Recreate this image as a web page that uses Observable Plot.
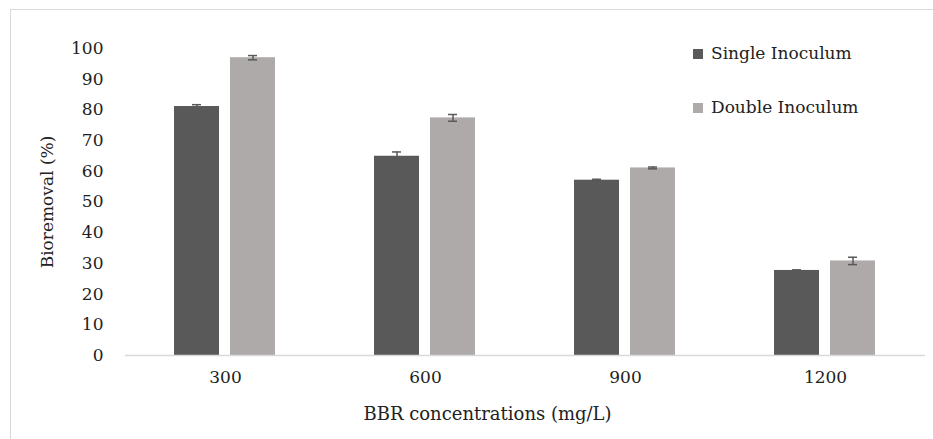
<!DOCTYPE html>
<html>
<head>
<meta charset="utf-8">
<script src="https://cdn.jsdelivr.net/npm/d3@7"></script>
<script src="https://cdn.jsdelivr.net/npm/@observablehq/plot@0.6"></script>
<style>
  body { margin: 0; background: #fff; }
  #wrap { position: relative; width: 933px; height: 439px; overflow: hidden; }
  #frame { position: absolute; left: 10px; top: 9px; right: -5px; bottom: -5px;
           border-top: 1.5px solid #d9d9d9; border-left: 1.5px solid #d9d9d9; pointer-events: none; }
  .leg { position: absolute; left: 693px; font-family: "DejaVu Serif"; font-size: 17px; color: #222;
         line-height: 22px; white-space: nowrap; }
  .sw { display: inline-block; width: 10px; height: 10px; margin-right: 8px; vertical-align: 0px; }
</style>
</head>
<body>
<div id="wrap"><div id="chart"></div><div id="frame"></div></div>
<script>
const concentrations = ["300", "600", "900", "1200"];
const series = ["Single Inoculum", "Double Inoculum"];
const singleValues = [81.1, 64.9, 57.1, 27.7];
const doubleValues = [97.0, 77.4, 61.1, 30.8];
const singleErrors = [0.6, 1.4, 0.3, 0.2];
const doubleErrors = [0.7, 1.1, 0.3, 1.2];
const yTicks = [0, 10, 20, 30, 40, 50, 60, 70, 80, 90, 100];
const colors = ["#595959", "#aeaaaa"];
const xTitle = "BBR concentrations (mg/L)";
const yTitle = "Bioremoval (%)";

const rows = concentrations.flatMap((c, i) => [
  {conc: c, series: series[0], value: singleValues[i], err: singleErrors[i]},
  {conc: c, series: series[1], value: doubleValues[i], err: doubleErrors[i]}
]);

const chart = Plot.plot({
  width: 933,
  height: 439,
  marginLeft: 125,
  marginRight: 8,
  marginTop: 48,
  marginBottom: 84,
  style: {fontFamily: "DejaVu Serif", fontSize: "17px", color: "#222", background: "transparent"},
  fx: {domain: concentrations, padding: 0, tickSize: 0, tickPadding: 15,
       label: xTitle, labelAnchor: "center", labelOffset: 64},
  x: {domain: series, axis: null, paddingInner: 0.193, paddingOuter: 0.851},
  y: {domain: [0, 100], ticks: yTicks, tickSize: 0, tickPadding: 22,
      label: yTitle, labelAnchor: "center", labelOffset: 85},
  color: {domain: series, range: colors},
  marks: [
    Plot.barY(rows, {fx: "conc", x: "series", y: "value", fill: "series"}),
    Plot.ruleX(rows, {fx: "conc", x: "series", y1: d => d.value - d.err, y2: d => d.value + d.err,
                      stroke: "#595959", strokeWidth: 1.5}),
    Plot.tickY(rows, {fx: "conc", x: "series", y: d => d.value + d.err, stroke: "#595959",
                      strokeWidth: 1.5, inset: 18}),
    Plot.tickY(rows, {fx: "conc", x: "series", y: d => d.value - d.err, stroke: "#595959",
                      strokeWidth: 1.5, inset: 18}),
    Plot.ruleY([0], {stroke: "#d9d9d9", strokeWidth: 1.5})
  ]
});
document.getElementById("chart").appendChild(chart);

// tidy axis titles: drop the auto arrow, shift x title to match reference
chart.querySelectorAll("text").forEach(t => {
  const s = t.textContent;
  if (s.includes("Bioremoval")) {
    t.textContent = yTitle;
  } else if (s.includes("BBR")) {
    t.textContent = xTitle;
    t.setAttribute("font-size", "18px");
    t.setAttribute("dx", "-38");
  }
});

// legend
const wrap = document.getElementById("wrap");
const legendCenters = [53, 107];
series.forEach((s, i) => {
  const div = document.createElement("div");
  div.className = "leg";
  div.style.top = (legendCenters[i] - 11) + "px";
  const sw = document.createElement("span");
  sw.className = "sw";
  sw.style.background = colors[i];
  div.appendChild(sw);
  div.appendChild(document.createTextNode(s));
  wrap.appendChild(div);
});
</script>
</body>
</html>
